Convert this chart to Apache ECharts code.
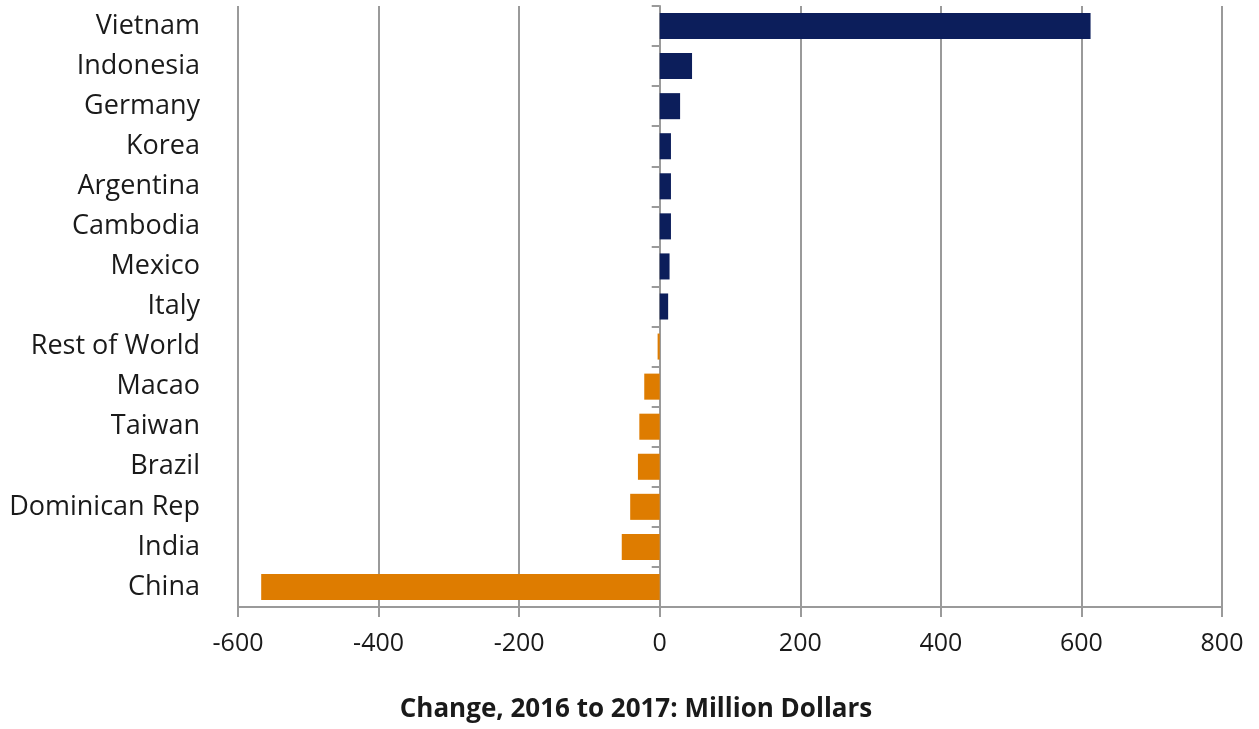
<!DOCTYPE html>
<html><head><meta charset="utf-8">
<script src="https://cdn.jsdelivr.net/npm/echarts@6/dist/echarts.min.js"></script>
<style>html,body{margin:0;padding:0;background:#fff}#c{width:1259px;height:729px}</style>
</head><body><div id="c"></div>
<script>
const categories = ['Vietnam','Indonesia','Germany','Korea','Argentina','Cambodia','Mexico','Italy','Rest of World','Macao','Taiwan','Brazil','Dominican Rep','India','China'];
const values = [613, 46, 29, 16, 16, 16, 14, 12, -3, -22, -29, -31, -42, -54, -567];
const xTicks = [-600, -400, -200, 0, 200, 400, 600, 800];
const posColor = '#0c1e5b';
const negColor = '#de7c00';
const font = 'Open Sans';

const chart = echarts.init(document.getElementById('c'));
chart.setOption({
  animation: false,
  grid: {left: 238, right: 37, top: 6, bottom: 122},
  title: {text: 'Change, 2016 to 2017: Million Dollars', left: 631, textAlign: 'center', top: 692,
    textStyle: {fontFamily: font, fontWeight: 'bold', fontSize: 26, color: '#1a1a1a'}},
  xAxis: {type: 'value', min: xTicks[0], max: xTicks[xTicks.length-1], interval: 200,
    axisLine: {show: true, onZero: false, lineStyle: {color: '#9a9a9a', width: 2}},
    axisTick: {show: true, length: 10, lineStyle: {color: '#9a9a9a', width: 2}},
    axisLabel: {fontFamily: font, fontSize: 25, color: '#1a1a1a', margin: 24},
    splitLine: {show: true, lineStyle: {color: '#9a9a9a', width: 2}}},
  yAxis: [{type: 'category', data: categories, inverse: true,
    axisLine: {show: false, onZero: false}, axisTick: {show: false},
    axisLabel: {fontFamily: font, fontSize: 27, color: '#1a1a1a', margin: 38, padding: [4, 0, 0, 0]}},
  {type: 'category', data: categories, inverse: true, position: 'left',
    axisLine: {show: true, onZero: true, lineStyle: {color: '#9a9a9a', width: 2}},
    axisTick: {show: true, length: 8, lineStyle: {color: '#9a9a9a', width: 2}},
    axisLabel: {show: false}}],
  series: [{type: 'bar', barWidth: '65%', yAxisIndex: 0,
    data: values.map(v => ({value: v, itemStyle: {color: v >= 0 ? posColor : negColor}}))}]
});
</script></body></html>
